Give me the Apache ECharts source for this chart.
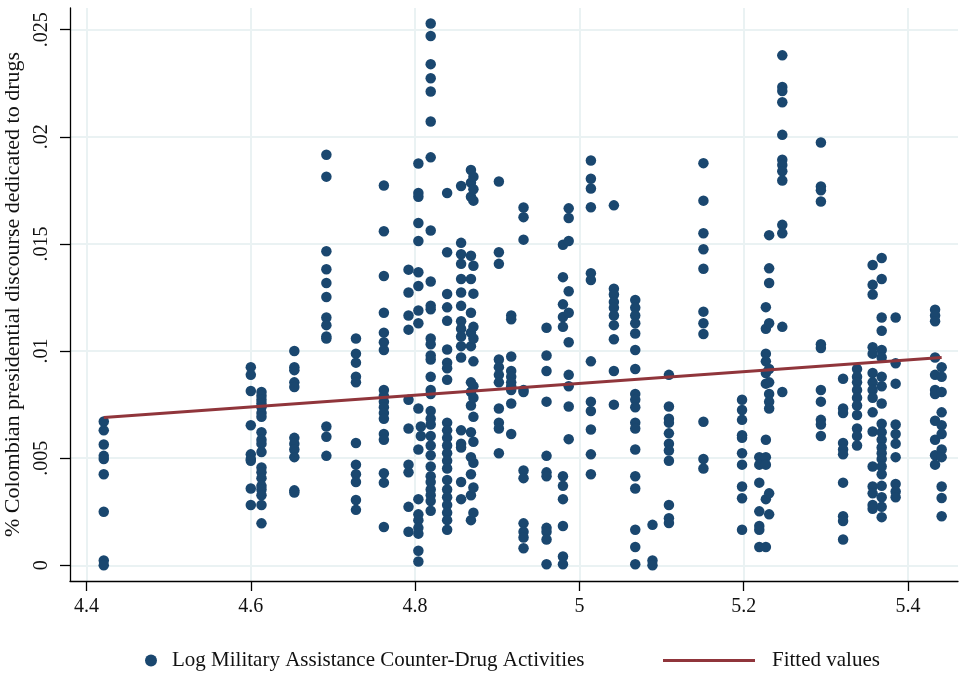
<!DOCTYPE html>
<html>
<head>
<meta charset="utf-8">
<title>Counter-drug assistance and discourse</title>
<script src="https://cdn.jsdelivr.net/npm/echarts@6/dist/echarts.min.js"></script>
<style>
  html, body { margin: 0; padding: 0; background: #fff; }
  #chart { width: 960px; height: 673px; }
</style>
</head>
<body>
<div id="chart"></div>
<script>
// x position of each vertical column of points (log assistance)
const colX = [4.421, 4.600, 4.613, 4.653, 4.692, 4.728, 4.762, 4.792, 4.804, 4.807,
  4.819, 4.839, 4.856, 4.868, 4.871, 4.902, 4.917, 4.932, 4.960, 4.980, 4.987,
  5.014, 5.042, 5.068, 5.089, 5.109, 5.151, 5.198, 5.219, 5.227, 5.231, 5.247,
  5.294, 5.321, 5.338, 5.357, 5.368, 5.385, 5.433, 5.441]

// share of discourse, in thousandths (per mille), one list per column
const colY = [
  [6.71, 6.30, 5.64, 5.11, 4.96, 4.25, 2.5, 0.23, 0],
  [9.25, 8.89, 8.14, 6.54, 5.18, 4.96, 4.88, 3.59, 2.82],
  [8.09, 7.91, 7.73, 7.55, 7.38, 7.11, 6.93, 6.21, 5.86, 5.68, 5.29, 4.57, 4.34, 4.07, 3.71, 3.54, 3.27, 2.82, 1.96],
  [10.0, 9.25, 9.11, 8.54, 8.32, 5.95, 5.68, 5.41, 5.05, 3.5, 3.4],
  [19.16, 18.14, 14.66, 13.82, 13.18, 12.52, 11.57, 11.21, 10.68, 10.59, 6.48, 6.0, 5.11],
  [10.59, 9.88, 9.46, 8.8, 8.54, 5.71, 4.7, 4.25, 3.89, 3.05, 2.59],
  [17.73, 15.59, 13.5, 11.79, 10.86, 10.41, 10.05, 8.18, 7.91, 7.64, 7.38, 7.11, 6.84, 6.13, 5.86, 4.3, 3.86, 1.79],
  [13.8, 12.73, 11.66, 11.0, 7.73, 6.39, 4.7, 4.34, 2.73, 1.57],
  [18.75, 17.38, 17.2, 15.98, 15.14, 13.68, 13.04, 11.89, 11.3, 7.32, 5.41, 3.09, 2.38, 2.11, 1.75, 1.48, 0.68, 0.18],
  [6.48, 6.04],
  [25.29, 24.7, 23.39, 22.73, 22.11, 20.71, 19.04, 15.63, 13.25, 12.12, 11.95, 10.59, 10.32, 9.79, 9.61, 8.8, 8.18, 8.0, 7.2, 6.84, 6.57, 6.04, 5.59, 5.14, 4.61, 4.16, 3.89, 3.54, 3.27, 3.0, 2.55],
  [17.38, 14.61, 12.66, 12.04, 11.41, 10.07, 9.46, 9.2, 8.66, 6.66, 6.3, 5.95, 5.59, 5.23, 4.88, 4.52, 3.98, 3.54, 3.18, 2.82, 2.46, 2.11, 1.66],
  [17.7, 15.05, 14.52, 14.07, 13.36, 12.73, 12.11, 11.39, 11.04, 10.68, 10.23, 9.7, 6.3, 5.68, 5.5, 3.89, 3.09],
  [18.45, 17.86, 17.2, 14.45, 13.36, 11.79, 10.86, 10.23, 8.54, 8.09, 7.46, 6.21, 5.05, 4.25, 3.27, 2.11],
  [18.14, 17.55, 17.02, 13.98, 12.68, 11.13, 10.59, 9.52, 8.36, 7.82, 6.93, 5.77, 4.79, 3.63, 2.46],
  [17.91, 14.61, 14.07, 9.61, 9.25, 8.89, 8.54, 7.32, 6.66, 6.39, 5.23],
  [11.66, 11.48, 9.75, 9.07, 8.8, 8.54, 8.36, 8.18, 7.55, 6.13],
  [16.7, 16.25, 15.2, 8.18, 8.09, 4.43, 4.07, 1.96, 1.57, 1.3, 0.8],
  [11.09, 9.79, 9.07, 7.64, 5.11, 4.34, 4.16, 1.75, 1.57, 1.21, 0.05],
  [14.96, 13.45, 12.18, 11.59, 11.13, 4.16, 3.71, 3.09, 1.84, 0.41, 0.05],
  [16.66, 16.21, 15.14, 12.79, 11.79, 10.41, 8.89, 8.36, 7.41, 5.89],
  [18.89, 18.04, 17.59, 16.71, 13.63, 13.32, 9.52, 7.64, 7.2, 6.34, 5.18, 4.25],
  [16.8, 12.91, 12.64, 12.29, 12.02, 11.66, 11.21, 10.55, 9.07, 7.5],
  [12.38, 12.02, 11.66, 11.3, 10.82, 10.05, 9.16, 8.0, 7.73, 7.38, 6.66, 6.39, 5.41, 4.16, 3.59, 1.66, 0.86, 0.05],
  [1.89, 0.23, 0],
  [8.89, 7.41, 6.84, 6.66, 6.16, 5.68, 5.36, 4.88, 2.82, 2.2, 1.98],
  [18.77, 17.02, 15.5, 14.75, 13.84, 11.84, 11.3, 10.8, 6.7, 4.96, 4.52],
  [7.73, 7.25, 6.79, 6.07, 5.95, 5.23, 4.7, 3.68, 3.13, 1.66],
  [5.05, 4.7, 3.86, 2.52, 1.84, 1.66, 0.86],
  [12.05, 11.04, 9.88, 9.52, 8.98, 8.48, 5.86, 5.05, 4.7, 3.09, 0.86],
  [15.41, 13.86, 13.18, 11.3, 9.16, 8.54, 8.0, 7.64, 7.32, 3.36, 2.38],
  [23.8, 22.32, 22.14, 21.61, 20.09, 18.93, 18.68, 18.39, 17.96, 15.89, 15.5, 11.13, 8.09],
  [19.73, 17.68, 17.5, 16.98, 10.32, 10.14, 8.18, 7.64, 6.79, 6.57, 6.04],
  [8.71, 7.32, 7.11, 5.71, 5.41, 5.18, 3.86, 2.29, 2.07, 1.21],
  [9.16, 8.8, 8.54, 8.18, 7.82, 7.46, 7.02, 6.39, 6.04, 5.59],
  [14.02, 13.09, 12.64, 10.18, 9.88, 8.98, 8.54, 8.18, 7.82, 7.14, 6.25, 4.61, 3.68, 3.36, 2.82, 2.64],
  [14.34, 13.36, 11.57, 10.95, 10.05, 9.7, 8.8, 8.36, 7.55, 6.61, 6.21, 5.86, 5.5, 5.23, 4.96, 4.61, 4.25, 3.71, 3.18, 2.73, 2.25],
  [11.57, 9.43, 8.48, 6.57, 6.13, 5.68, 5.05, 3.8, 3.45, 3.18],
  [11.93, 11.66, 11.39, 9.7, 8.89, 8.18, 8.0, 6.75, 5.86, 5.14, 4.7],
  [9.25, 8.8, 8.09, 7.14, 6.54, 6.13, 5.41, 5.05, 3.68, 3.14, 2.29]
]

// fitted line end points
const fitX = [4.421, 5.441]
const fitY = [0.0069, 0.0097]

const xTicks = [4.4, 4.6, 4.8, 5, 5.2, 5.4]
const yTicks = [0, 0.005, 0.01, 0.015, 0.02, 0.025]

const scatterName = 'Log Military Assistance Counter-Drug Activities'
const fitName = 'Fitted values'

const points = []
colX.forEach((x, i) => {
  colY[i].forEach(v => {
    points.push([x, v / 1000]) // per mille -> share
  })
})
const fitLine = fitX.map((x, i) => [x, fitY[i]])

const font = 'Liberation Serif'
const chart = echarts.init(document.getElementById('chart'))
const option = {
  backgroundColor: '#fff',
  animation: false,
  textStyle: { fontFamily: font },
  grid: { left: 70, right: 2, top: 8, bottom: 92, containLabel: false, outerBoundsMode: 'none' },
  legend: [
    {
      data: [scatterName],
      left: 140,
      top: 645,
      itemWidth: 12,
      itemHeight: 12,
      textStyle: { fontFamily: font, fontSize: 21, color: '#111', padding: [0, 0, 0, 10] }
    },
    {
      data: [{ name: fitName, icon: 'rect' }],
      left: 658,
      top: 645,
      itemWidth: 92,
      itemHeight: 3,
      textStyle: { fontFamily: font, fontSize: 21, color: '#111', padding: [0, 0, 0, 12] }
    }
  ],
  xAxis: {
    type: 'value',
    min: 4.3799,
    max: 5.4609,
    axisLine: { onZero: false, lineStyle: { color: '#000', width: 1.3 } },
    axisTick: { customValues: xTicks, length: 10, lineStyle: { color: '#000', width: 1.3 } },
    axisLabel: {
      customValues: xTicks,
      margin: 16,
      color: '#111',
      fontSize: 20,
      fontFamily: font
    },
    splitLine: { show: true, lineStyle: { color: '#eaf2f3', width: 2 } }
  },
  yAxis: {
    type: 'value',
    min: -0.00073,
    max: 0.02601,
    name: '% Colombian presidential discourse dedicated to drugs',
    nameLocation: 'middle',
    nameGap: 42,
    nameTextStyle: { fontFamily: font, fontSize: 22, color: '#111' },
    axisLine: { show: true, onZero: false, lineStyle: { color: '#000', width: 1.3 } },
    axisTick: { show: true, customValues: yTicks, length: 10, lineStyle: { color: '#000', width: 1.3 } },
    axisLabel: {
      customValues: yTicks,
      rotate: 90,
      margin: 18,
      color: '#111',
      fontSize: 20,
      fontFamily: font,
      formatter: v => (v === 0 ? '0' : String(v).replace(/^0/, ''))
    },
    splitLine: { show: true, lineStyle: { color: '#eaf2f3', width: 2 } }
  },
  series: [
    {
      name: scatterName,
      type: 'scatter',
      data: points,
      symbol: 'circle',
      symbolSize: 10.5,
      itemStyle: { color: '#1a476f', opacity: 1 },
      z: 2
    },
    {
      name: fitName,
      type: 'line',
      data: fitLine,
      symbol: 'none',
      lineStyle: { color: '#90353b', width: 3 },
      itemStyle: { color: '#90353b' },
      z: 3
    }
  ]
}
chart.setOption(option)
window.addEventListener('resize', () => {
  chart.resize()
})
</script>
</body>
</html>
